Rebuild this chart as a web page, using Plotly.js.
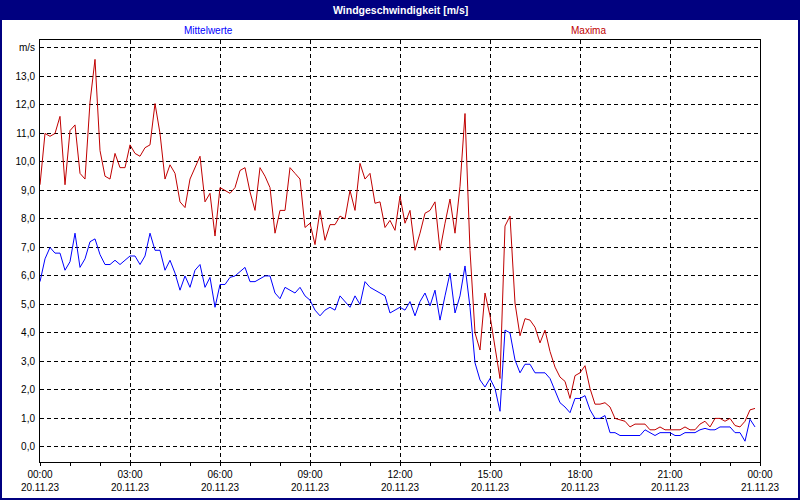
<!DOCTYPE html>
<html>
<head>
<meta charset="utf-8">
<script src="https://cdn.plot.ly/plotly-3.0.1.min.js"></script>
<style>
  html, body { margin: 0; padding: 0; background: #ffffff; }
  #chart { width: 800px; height: 500px; }
</style>
</head>
<body>
<div id="chart"></div>
<script>
// Wind speed, 20.11.23, 10-minute samples (00:00 .. 23:50)
const START_TIME = '2023-11-20T00:00:00';
const STEP_MINUTES = 10;

const seriesNames = ['Mittelwerte', 'Maxima'];

const meanValues = [
  5.8, 6.6, 7.0, 6.8, 6.8, 6.2, 6.5, 7.5, 6.3, 6.6,
  7.2, 7.3, 6.75, 6.4, 6.4, 6.55, 6.4, 6.55, 6.7, 6.7,
  6.4, 6.7, 7.5, 6.9, 6.9, 6.2, 6.55, 6.1, 5.5, 6.0,
  5.6, 6.2, 6.4, 5.6, 5.95, 4.9, 5.7, 5.7, 5.95, 6.0,
  6.15, 6.3, 5.8, 5.8, 5.9, 6.0, 6.0, 5.4, 5.2, 5.6,
  5.5, 5.4, 5.6, 5.3, 5.15, 4.8, 4.6, 4.8, 4.9, 4.8,
  5.3, 5.1, 4.9, 5.3, 5.0, 5.8, 5.6, 5.5, 5.4, 5.3,
  4.7, 4.8, 4.9, 4.8, 5.1, 4.6, 5.1, 5.4, 4.95, 5.5,
  4.45, 5.3, 6.1, 4.7, 5.3, 6.35, 4.9, 2.95, 2.35, 2.1,
  2.4, 2.05, 1.25, 4.1, 4.0, 3.05, 2.6, 2.9, 2.9, 2.6,
  2.6, 2.6, 2.4, 2.0, 1.55, 1.4, 1.2, 1.7, 1.7, 1.8,
  1.3, 1.0, 1.0, 1.1, 0.5, 0.5, 0.4, 0.4, 0.4, 0.4,
  0.4, 0.6, 0.5, 0.4, 0.5, 0.5, 0.5, 0.4, 0.4, 0.5,
  0.5, 0.5, 0.6, 0.65, 0.6, 0.6, 0.7, 0.7, 0.7, 0.5,
  0.5, 0.2, 0.97, 0.7
];

const maxValues = [
  9.2, 11.0, 10.9, 11.0, 11.6, 9.2, 11.1, 11.3, 9.6, 9.4,
  12.1, 13.6, 10.4, 9.5, 9.4, 10.3, 9.8, 9.8, 10.6, 10.3,
  10.2, 10.5, 10.6, 12.05, 11.0, 9.4, 9.9, 9.6, 8.6, 8.4,
  9.4, 9.8, 10.2, 8.6, 8.9, 7.4, 9.1, 9.0, 8.9, 9.1,
  9.7, 9.8, 8.95, 8.3, 9.8, 9.5, 9.1, 7.5, 8.3, 8.3,
  9.8, 9.6, 9.4, 7.7, 7.85, 7.1, 8.3, 7.25, 7.8, 7.8,
  8.1, 8.0, 9.0, 8.3, 9.95, 9.4, 9.6, 8.55, 8.6, 7.7,
  7.95, 7.6, 8.8, 7.85, 8.3, 6.9, 7.5, 8.2, 8.3, 8.6,
  6.9, 7.85, 8.7, 7.5, 9.15, 11.7, 6.9, 4.0, 3.4, 5.4,
  4.6, 3.5, 2.4, 7.75, 8.1, 5.05, 3.9, 4.5, 4.45, 4.2,
  3.65, 4.1, 3.35, 2.8, 2.45, 2.3, 1.7, 2.5, 2.6, 2.85,
  2.05, 1.5, 1.5, 1.55, 1.4, 1.0, 0.95, 0.9, 0.7, 0.8,
  0.8, 0.8, 0.6, 0.6, 0.7, 0.6, 0.6, 0.6, 0.6, 0.7,
  0.6, 0.6, 0.8, 0.9, 0.7, 1.0, 1.0, 0.9, 1.0, 0.75,
  0.7, 0.9, 1.3, 1.35
];

const yTickVals = [0, 1, 2, 3, 4, 5, 6, 7, 8, 9, 10, 11, 12, 13, 14];
const yTickText = ['0,0', '1,0', '2,0', '3,0', '4,0', '5,0', '6,0', '7,0',
  '8,0', '9,0', '10,0', '11,0', '12,0', '13,0', 'm/s'];

const COLOR_MEAN = '#0000ff';
const COLOR_MAX = '#c00000';
const NAVY = '#000080';
const FONT = 'Liberation Sans, Arial, sans-serif';

function buildTimes(n) {
  const t0 = new Date(START_TIME + 'Z').getTime();
  const out = [];
  for (let i = 0; i < n; i++) {
    out.push(new Date(t0 + i * STEP_MINUTES * 60000).toISOString().slice(0, 16).replace('T', ' '));
  }
  return out;
}

// paper coords for pixel positions outside the plot area
const PLOT = { l: 40, r: 760, t: 40, b: 462 };
const px = x => (x - PLOT.l) / (PLOT.r - PLOT.l);
const py = y => (PLOT.b - y) / (PLOT.b - PLOT.t);

const times = buildTimes(meanValues.length);

const traces = [
  {
    x: times, y: meanValues, type: 'scatter', mode: 'lines',
    name: seriesNames[0], line: { color: COLOR_MEAN, width: 1 }, hoverinfo: 'skip'
  },
  {
    x: times, y: maxValues, type: 'scatter', mode: 'lines',
    name: seriesNames[1], line: { color: COLOR_MAX, width: 1 }, hoverinfo: 'skip'
  }
];

const layout = {
  width: 800,
  height: 500,
  margin: { l: 40, r: 40, t: 40, b: 38 },
  paper_bgcolor: '#ffffff',
  plot_bgcolor: '#ffffff',
  showlegend: false,
  font: { family: FONT, size: 10, color: '#000000' },
  xaxis: {
    type: 'date',
    range: ['2023-11-20 00:00', '2023-11-21 00:00'],
    tick0: '2023-11-20 00:00',
    dtick: 3 * 3600000,
    tickformat: '%H:%M<br>%d.%m.%y',
    ticks: 'outside',
    ticklen: 3,
    tickcolor: '#000000',
    showgrid: true,
    gridcolor: '#000000',
    gridwidth: 1,
    griddash: '4px,3px',
    showline: true,
    linecolor: '#000000',
    linewidth: 1,
    mirror: true,
    zeroline: false,
    minor: { dtick: 3600000, ticks: 'outside', ticklen: 3, tickcolor: '#000000', showgrid: false },
    tickfont: { family: FONT, size: 10, color: '#000000' }
  },
  yaxis: {
    range: [-0.53, 14.28],
    tickvals: yTickVals,
    ticktext: yTickText,
    ticks: '',
    ticklabelstandoff: 2,
    showgrid: true,
    gridcolor: '#000000',
    gridwidth: 1,
    griddash: '4px,3px',
    showline: true,
    linecolor: '#000000',
    linewidth: 1,
    mirror: true,
    zeroline: false,
    tickfont: { family: FONT, size: 10, color: '#000000' }
  },
  shapes: [
    // title bar
    {
      type: 'rect', xref: 'paper', yref: 'paper', layer: 'above',
      x0: px(0), x1: px(800), y0: py(20), y1: py(0),
      fillcolor: NAVY, line: { width: 0 }
    },
    // outer border
    {
      type: 'rect', xref: 'paper', yref: 'paper', layer: 'above',
      x0: px(1), x1: px(799), y0: py(499), y1: py(1),
      fillcolor: 'rgba(0,0,0,0)', line: { color: NAVY, width: 2 }
    }
  ],
  annotations: [
    {
      xref: 'paper', yref: 'paper', x: px(400), y: py(10),
      xanchor: 'center', yanchor: 'middle', showarrow: false,
      text: '<b>Windgeschwindigkeit [m/s]</b>',
      font: { family: FONT, size: 10.5, color: '#ffffff' }
    },
    {
      xref: 'paper', yref: 'paper', x: px(208), y: py(31),
      xanchor: 'center', yanchor: 'middle', showarrow: false,
      text: seriesNames[0], font: { family: FONT, size: 10, color: COLOR_MEAN }
    },
    {
      xref: 'paper', yref: 'paper', x: px(588), y: py(31),
      xanchor: 'center', yanchor: 'middle', showarrow: false,
      text: seriesNames[1], font: { family: FONT, size: 10, color: COLOR_MAX }
    }
  ]
};

Plotly.newPlot('chart', traces, layout, { displayModeBar: false, staticPlot: true });
</script>
</body>
</html>
